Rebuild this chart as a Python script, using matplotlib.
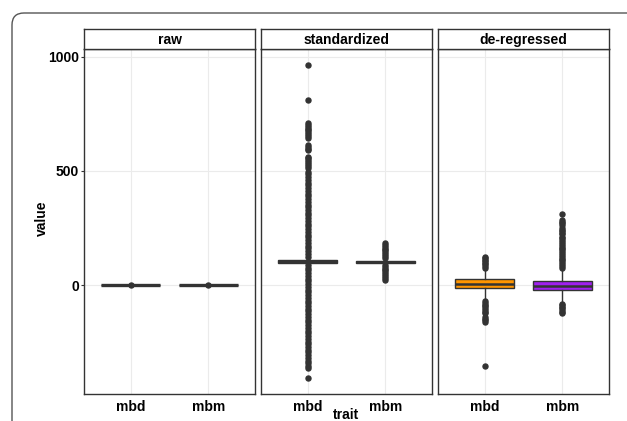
import numpy as np
import matplotlib
matplotlib.use('Agg')
import matplotlib.pyplot as plt
from matplotlib.patches import FancyBboxPatch

plt.rcParams['font.family'] = ['Liberation Sans', 'DejaVu Sans']
plt.rcParams['font.weight'] = 'bold'

# panels and traits
panels = ['raw', 'standardized', 'de-regressed']
traits = ['mbd', 'mbm']

# box summaries: (whislo, q1, med, q3, whishi)
raw_mbd = (-1, -1, 0, 1, 1)
raw_mbm = (-1, -1, 0, 1, 1)
std_mbd = (92, 98, 104, 110, 116)
std_mbm = (94, 98, 102, 107, 110)
der_mbd = (-66, -15, 4, 25, 72)
der_mbm = (-79, -22, -3, 19, 72)

# outliers
raw_mbd_out = [0]
raw_mbm_out = [0]
std_mbd_out = [965, 811,
               711, 702, 694, 686, 678, 670, 662, 654, 646,
               614, 606, 598, 592,
               563, 555, 547, 539, 530, 521, 512,
               497, 485, 473, 461, 449, 437, 425, 413, 401, 389, 377, 365,
               353, 341, 329, 317, 305, 293, 281, 269, 257, 245, 233, 221,
               209, 197, 185, 173, 161, 149, 137, 125,
               88, 76, 64, 52, 40, 28, 16, 4, -8, -20, -32, -44, -56, -68,
               -80, -92, -104, -116, -128, -140, -152, -164, -176, -188,
               -200, -212, -224, -236, -248, -260, -272, -284, -296, -308,
               -320, -332, -344, -356, -366, -408]
std_mbm_out = [184, 176, 168, 160, 152, 144, 136, 128, 120,
               88, 80, 72, 64, 56, 48, 40, 32, 24]
der_mbd_out = [125, 118, 111, 104, 97, 90, 83, 76,
               -70, -78, -86, -94, -102, -110, -118, -124,
               -139, -147, -154, -161, -355]
der_mbm_out = [310, 285, 278, 270, 263, 250, 243, 236, 229, 222,
               212, 204, 196, 188, 180, 172, 164, 156, 148, 140, 132,
               124, 116, 108, 100, 92, 84, 76,
               -82, -89, -96, -103, -110, -117, -123]

summaries = [[raw_mbd, raw_mbm], [std_mbd, std_mbm], [der_mbd, der_mbm]]
outliers = [[raw_mbd_out, raw_mbm_out], [std_mbd_out, std_mbm_out],
            [der_mbd_out, der_mbm_out]]
fills = [['#333333', '#333333'], ['#333333', '#333333'], ['#ff9500', '#a020f0']]

W, H = 627, 421
fig = plt.figure(figsize=(W / 100, H / 100), dpi=100)

lefts = [84, 261, 438]
pw = 171
ax_top, ax_bot = 49, 394
strip_top = 29

dark = '#333333'
fs = 10
for i, name in enumerate(panels):
    ax = fig.add_axes([lefts[i] / W, 1 - ax_bot / H, pw / W, (ax_bot - ax_top) / H])
    stats = []
    for j, t in enumerate(traits):
        lo, q1, med, q3, hi = summaries[i][j]
        stats.append(dict(label=t, whislo=lo, q1=q1, med=med, q3=q3, whishi=hi,
                          fliers=outliers[i][j]))
    bp = ax.bxp(stats, positions=[1, 2], widths=0.75, patch_artist=True,
                boxprops=dict(edgecolor=dark, linewidth=1.0),
                medianprops=dict(color=dark, linewidth=1.8),
                whiskerprops=dict(color=dark, linewidth=1.0),
                capprops=dict(linewidth=0),
                flierprops=dict(marker='o', markerfacecolor=dark,
                                markeredgecolor=dark, markersize=3.6),
                zorder=3)
    for b, c in zip(bp['boxes'], fills[i]):
        b.set_facecolor(c)
    if i == 0:
        for m in bp['medians']:
            m.set_linewidth(2.4)
    ax.set_xlim(0.4, 2.6)
    ax.set_ylim(-478, 1035)
    ax.set_yticks([0, 500, 1000])
    ax.grid(True, color='#ebebeb', linewidth=0.8, zorder=0)
    ax.set_axisbelow(True)
    for s in ax.spines.values():
        s.set_color(dark)
        s.set_linewidth(1.0)
    ax.tick_params(axis='x', length=0, pad=4, labelsize=fs, colors='black')
    ax.tick_params(axis='y', length=2.5, width=0.8, color=dark, pad=1,
                   labelsize=fs, labelcolor='black')
    if i > 0:
        ax.tick_params(axis='y', length=0, labelleft=False)
    for lab in ax.get_xticklabels() + ax.get_yticklabels():
        lab.set_fontweight('bold')

    sx = fig.add_axes([lefts[i] / W, 1 - ax_top / H, pw / W, (ax_top - strip_top) / H])
    sx.set_xticks([])
    sx.set_yticks([])
    sx.set_facecolor('white')
    for s in sx.spines.values():
        s.set_color(dark)
        s.set_linewidth(1.0)
    sx.text(0.5, 0.45, name, ha='center', va='center', fontsize=fs,
            fontweight='bold', transform=sx.transAxes)

fig.text(42 / W, 1 - 218 / H, 'value', rotation=90, ha='center', va='center',
         fontsize=fs, fontweight='bold')
fig.text(346 / W, 1 - 408 / H, 'trait', ha='center', va='top',
         fontsize=fs, fontweight='bold')

# rounded figure frame
frame = FancyBboxPatch((12, -30), 700, H - 13 + 30,
                       boxstyle='round,pad=0,rounding_size=12',
                       transform=None, facecolor='none', edgecolor='#555555',
                       linewidth=1.0, clip_on=False)
fig.patches.append(frame)

fig.savefig('out.png', dpi=100)
